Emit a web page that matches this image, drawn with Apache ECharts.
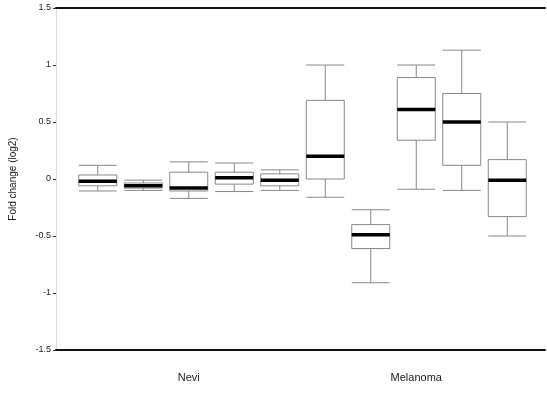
<!DOCTYPE html>
<html>
<head>
<meta charset="utf-8">
<script src="https://cdn.jsdelivr.net/npm/echarts@6/dist/echarts.min.js"></script>
<style>
  html, body { margin: 0; padding: 0; background: #fff; }
  #chart { width: 547px; height: 396px; }
</style>
</head>
<body>
<div id="chart"></div>
<script>
document.addEventListener('DOMContentLoaded', function() {

    // Data ---------------------------------------------------------
    const groupLabels = ['Nevi', 'Melanoma'];
    const boxNames = ['N1', 'N2', 'N3', 'N4', 'N5', 'M1', 'M2', 'M3', 'M4', 'M5'];
    // [min, q1, median, q3, max]
    const boxValues = [
        [-0.105, -0.06, -0.02, 0.035, 0.12],
        [-0.10, -0.08, -0.06, -0.035, -0.01],
        [-0.17, -0.105, -0.08, 0.06, 0.15],
        [-0.11, -0.045, 0.01, 0.06, 0.14],
        [-0.10, -0.06, -0.01, 0.045, 0.08],
        [-0.16, 0.0, 0.20, 0.69, 1.0],
        [-0.91, -0.61, -0.49, -0.40, -0.27],
        [-0.09, 0.34, 0.61, 0.89, 1.0],
        [-0.10, 0.12, 0.50, 0.75, 1.13],
        [-0.50, -0.33, -0.01, 0.17, 0.50]
    ];
    const yMin = -1.5;
    const yMax = 1.5;
    const yStep = 0.5;

    const medians = boxValues.map((b, i) => [i, b[2]]);
    const boxHalf = 19;

    const chart = echarts.init(document.getElementById('chart'));

    const frameAxis = (pos) => ({
        gridIndex: 0, type: 'value', position: pos,
        axisLine: {show: true, onZero: false, lineStyle: {color: '#111', width: 2}},
        axisTick: {show: false}, axisLabel: {show: false}, splitLine: {show: false}
    });

    chart.setOption({
        animation: false,
        textStyle: {fontFamily: 'Liberation Sans'},
        grid: [
            {left: 55, right: 2, top: 8, bottom: 46},
            {left: 75, right: 17, top: 8, bottom: 46}
        ],
        xAxis: [
            frameAxis('bottom'),
            frameAxis('top'),
            // boxes
            {
                gridIndex: 1, type: 'category', data: boxNames, show: false
            },
            // group labels
            {
                gridIndex: 1, type: 'category', data: groupLabels, position: 'bottom',
                axisLine: {show: false, onZero: false}, axisTick: {show: false},
                axisLabel: {color: '#222', fontSize: 11, margin: 22}
            }
        ],
        yAxis: [
            {
                gridIndex: 0, type: 'value', min: yMin, max: yMax, interval: yStep,
                name: 'Fold change (log2)', nameLocation: 'middle', nameGap: 38,
                nameTextStyle: {color: '#222', fontSize: 10},
                axisLine: {show: true, onZero: false, lineStyle: {color: '#ddd', width: 1}},
                axisTick: {show: true, length: 3, lineStyle: {color: '#333'}},
                axisLabel: {color: '#222', fontSize: 9, margin: 5},
                splitLine: {show: false}
            },
            {
                gridIndex: 1, type: 'value', min: yMin, max: yMax, show: false
            }
        ],
        series: [
            {
                type: 'boxplot',
                xAxisIndex: 2,
                yAxisIndex: 1,
                boxWidth: [boxHalf * 2, boxHalf * 2],
                itemStyle: {color: '#fff', borderColor: '#888', borderWidth: 1},
                data: boxValues
            },
            {
                type: 'custom',
                xAxisIndex: 2,
                yAxisIndex: 1,
                z: 5,
                renderItem: function(params, api) {
                    const p = api.coord([api.value(0), api.value(1)]);
                    return {
                        type: 'line',
                        shape: {x1: p[0] - boxHalf, y1: p[1], x2: p[0] + boxHalf, y2: p[1]},
                        style: {stroke: '#000', lineWidth: 3.5}
                    };
                },
                data: medians
            }
        ]
    });

});
</script>
</body>
</html>
